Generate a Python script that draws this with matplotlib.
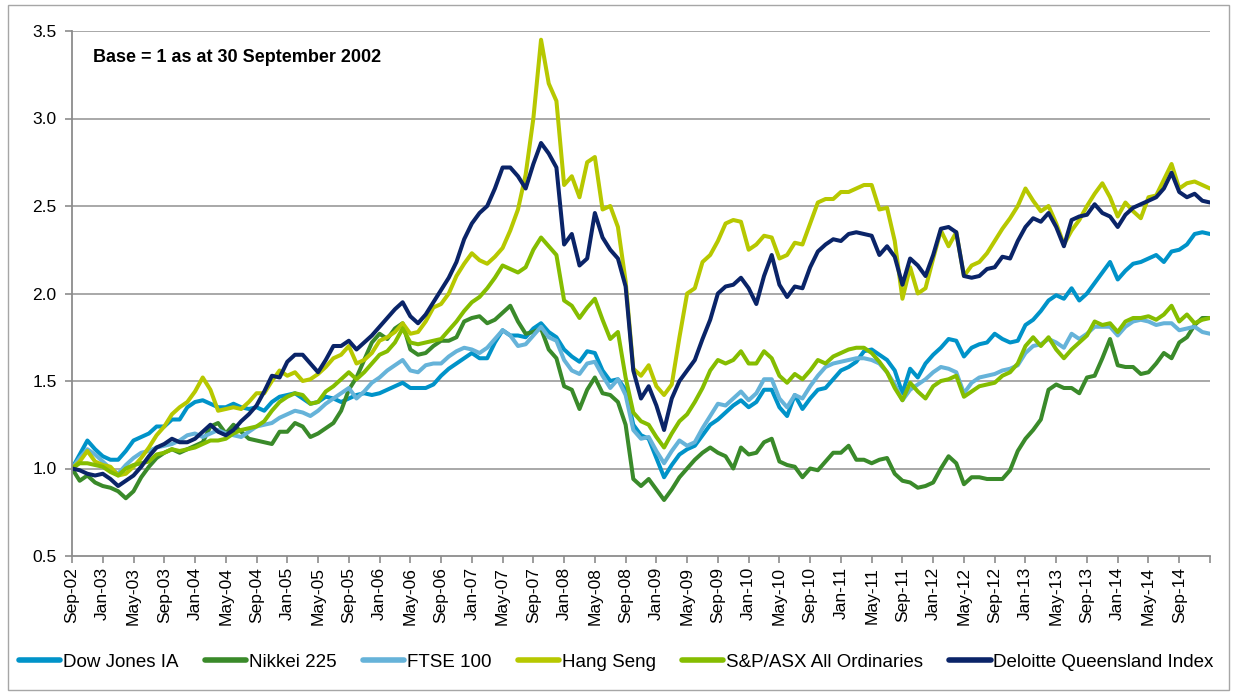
import matplotlib
matplotlib.use("Agg")
import matplotlib.pyplot as plt
import pandas as pd
from matplotlib.patches import Rectangle

plt.rcParams['font.family'] = ['Liberation Sans', 'DejaVu Sans']

# Monthly categories: Sep-2002 .. Jan-2015
months = pd.date_range("2002-09-01", periods=149, freq="MS")
month_labels = [d.strftime("%b-%y") for d in months]

dow_jones = [
    1.00, 1.08, 1.16, 1.11, 1.07, 1.05, 1.05, 1.10, 1.16, 1.18, 1.20, 1.24, 1.24, 1.28, 1.28, 1.35,
    1.38, 1.39, 1.37, 1.35, 1.35, 1.37, 1.35, 1.34, 1.35, 1.33, 1.38, 1.41, 1.42, 1.43, 1.40, 1.37,
    1.38, 1.41, 1.40, 1.38, 1.40, 1.42, 1.43, 1.42, 1.43, 1.45, 1.47, 1.49, 1.46, 1.46, 1.46, 1.48,
    1.53, 1.57, 1.60, 1.63, 1.66, 1.63, 1.63, 1.72, 1.79, 1.76, 1.76, 1.75, 1.80, 1.83, 1.78, 1.75,
    1.68, 1.64, 1.61, 1.67, 1.66, 1.56, 1.50, 1.51, 1.45, 1.25, 1.19, 1.17, 1.06, 0.95, 1.02, 1.08,
    1.11, 1.13, 1.19, 1.25, 1.28, 1.32, 1.36, 1.39, 1.35, 1.38, 1.45, 1.45, 1.35, 1.30, 1.42, 1.34,
    1.40, 1.45, 1.46, 1.51, 1.56, 1.58, 1.61, 1.67, 1.68, 1.65, 1.62, 1.56, 1.43, 1.57, 1.52, 1.60,
    1.65, 1.69, 1.74, 1.73, 1.64, 1.69, 1.71, 1.72, 1.77, 1.74, 1.72, 1.73, 1.82, 1.85, 1.90, 1.96,
    1.99, 1.97, 2.03, 1.96, 2.00, 2.06, 2.12, 2.18, 2.08, 2.13, 2.17, 2.18, 2.20, 2.22, 2.18, 2.24,
    2.25, 2.28, 2.34, 2.35, 2.34]

nikkei = [
    1.00, 0.93, 0.96, 0.92, 0.90, 0.89, 0.87, 0.83, 0.87, 0.95, 1.01, 1.06, 1.09, 1.11, 1.09, 1.11,
    1.13, 1.15, 1.24, 1.26, 1.20, 1.25, 1.21, 1.17, 1.16, 1.15, 1.14, 1.21, 1.21, 1.26, 1.24, 1.18,
    1.20, 1.23, 1.26, 1.33, 1.45, 1.52, 1.62, 1.72, 1.77, 1.74, 1.80, 1.83, 1.68, 1.65, 1.66, 1.70,
    1.73, 1.73, 1.75, 1.84, 1.86, 1.87, 1.83, 1.85, 1.89, 1.93, 1.84, 1.77, 1.78, 1.80, 1.68, 1.63,
    1.47, 1.45, 1.34, 1.45, 1.52, 1.43, 1.42, 1.38, 1.25, 0.94, 0.90, 0.94, 0.88, 0.82, 0.88, 0.95,
    1.00, 1.05, 1.09, 1.12, 1.09, 1.07, 1.00, 1.12, 1.08, 1.09, 1.15, 1.17, 1.04, 1.02, 1.01, 0.95,
    1.00, 0.99, 1.04, 1.09, 1.09, 1.13, 1.05, 1.05, 1.03, 1.05, 1.06, 0.97, 0.93, 0.92, 0.89, 0.90,
    0.92, 1.00, 1.07, 1.03, 0.91, 0.95, 0.95, 0.94, 0.94, 0.94, 0.99, 1.10, 1.17, 1.22, 1.28, 1.45,
    1.48, 1.46, 1.46, 1.43, 1.52, 1.53, 1.63, 1.74, 1.59, 1.58, 1.58, 1.54, 1.55, 1.60, 1.66, 1.63,
    1.72, 1.75, 1.82, 1.86, 1.86]

ftse = [
    1.00, 1.06, 1.11, 1.08, 1.04, 1.00, 0.97, 1.02, 1.06, 1.09, 1.10, 1.12, 1.13, 1.14, 1.16, 1.19,
    1.20, 1.18, 1.20, 1.22, 1.20, 1.19, 1.18, 1.21, 1.24, 1.25, 1.26, 1.29, 1.31, 1.33, 1.32, 1.30,
    1.33, 1.37, 1.40, 1.43, 1.46, 1.40, 1.44, 1.49, 1.52, 1.56, 1.59, 1.62, 1.56, 1.55, 1.59, 1.60,
    1.60, 1.64, 1.67, 1.69, 1.68, 1.66, 1.69, 1.74, 1.79, 1.76, 1.70, 1.71, 1.76, 1.81, 1.75, 1.73,
    1.62, 1.56, 1.54, 1.60, 1.61, 1.53, 1.46, 1.51, 1.42, 1.22, 1.17, 1.18, 1.10, 1.03, 1.10, 1.16,
    1.13, 1.15, 1.23, 1.30, 1.37, 1.36, 1.40, 1.44, 1.39, 1.43, 1.51, 1.51, 1.40, 1.35, 1.42, 1.40,
    1.47, 1.53, 1.58, 1.60, 1.61, 1.62, 1.63, 1.63, 1.62, 1.60, 1.55, 1.48, 1.39, 1.45, 1.48, 1.51,
    1.55, 1.58, 1.57, 1.55, 1.43, 1.49, 1.52, 1.53, 1.54, 1.56, 1.57, 1.59, 1.66, 1.70, 1.71, 1.74,
    1.72, 1.69, 1.77, 1.74, 1.77, 1.81, 1.81, 1.81, 1.76, 1.81, 1.84, 1.85, 1.84, 1.82, 1.83, 1.83,
    1.79, 1.80, 1.81, 1.78, 1.77]

hang_seng = [
    1.00, 1.04, 1.10, 1.04, 1.02, 1.01, 0.96, 0.97, 1.01, 1.06, 1.12, 1.19, 1.24, 1.31, 1.35, 1.38,
    1.44, 1.52, 1.45, 1.33, 1.34, 1.35, 1.34, 1.38, 1.43, 1.43, 1.50, 1.56, 1.53, 1.55, 1.50, 1.51,
    1.54, 1.58, 1.63, 1.65, 1.70, 1.60, 1.62, 1.66, 1.73, 1.75, 1.78, 1.83, 1.77, 1.78, 1.84, 1.92,
    1.94, 2.00, 2.10, 2.17, 2.23, 2.19, 2.17, 2.21, 2.26, 2.36, 2.48, 2.68, 3.00, 3.45, 3.20, 3.10,
    2.62, 2.67, 2.55, 2.75, 2.78, 2.48, 2.50, 2.38, 2.07, 1.57, 1.53, 1.59, 1.47, 1.42, 1.48, 1.75,
    2.00, 2.03, 2.18, 2.22, 2.30, 2.40, 2.42, 2.41, 2.25, 2.28, 2.33, 2.32, 2.20, 2.22, 2.29, 2.28,
    2.40, 2.52, 2.54, 2.54, 2.58, 2.58, 2.60, 2.62, 2.62, 2.48, 2.49, 2.30, 1.97, 2.15, 2.00, 2.03,
    2.20, 2.36, 2.27, 2.35, 2.10, 2.16, 2.18, 2.23, 2.30, 2.37, 2.43, 2.50, 2.60, 2.53, 2.47, 2.50,
    2.40, 2.28, 2.36, 2.42, 2.50, 2.57, 2.63, 2.55, 2.44, 2.52, 2.47, 2.43, 2.55, 2.56, 2.65, 2.74,
    2.60, 2.63, 2.64, 2.62, 2.60]

asx_all_ords = [
    1.00, 1.03, 1.03, 1.02, 1.01, 0.98, 0.96, 1.00, 1.02, 1.03, 1.04, 1.08, 1.09, 1.11, 1.10, 1.11,
    1.12, 1.14, 1.16, 1.16, 1.17, 1.20, 1.22, 1.23, 1.24, 1.27, 1.33, 1.38, 1.41, 1.43, 1.42, 1.37,
    1.38, 1.44, 1.47, 1.51, 1.55, 1.51, 1.55, 1.60, 1.65, 1.67, 1.72, 1.80, 1.72, 1.71, 1.72, 1.73,
    1.74, 1.79, 1.84, 1.90, 1.95, 1.98, 2.03, 2.09, 2.16, 2.14, 2.12, 2.15, 2.25, 2.32, 2.27, 2.22,
    1.96, 1.93, 1.86, 1.92, 1.97, 1.85, 1.74, 1.78, 1.52, 1.32, 1.27, 1.25, 1.18, 1.12, 1.20, 1.27,
    1.31, 1.38, 1.46, 1.56, 1.62, 1.60, 1.62, 1.67, 1.60, 1.60, 1.67, 1.63, 1.53, 1.49, 1.54, 1.51,
    1.56, 1.62, 1.60, 1.64, 1.66, 1.68, 1.69, 1.69, 1.66, 1.61, 1.55, 1.46, 1.39, 1.49, 1.44, 1.40,
    1.47, 1.50, 1.51, 1.53, 1.41, 1.44, 1.47, 1.48, 1.49, 1.53, 1.55, 1.60, 1.70, 1.75, 1.70, 1.75,
    1.68, 1.63, 1.68, 1.72, 1.76, 1.84, 1.82, 1.83, 1.78, 1.84, 1.86, 1.86, 1.87, 1.85, 1.88, 1.93,
    1.84, 1.88, 1.83, 1.85, 1.86]

deloitte_qld = [
    1.00, 0.99, 0.97, 0.96, 0.97, 0.94, 0.90, 0.93, 0.96, 1.01, 1.07, 1.12, 1.14, 1.17, 1.15, 1.15,
    1.17, 1.21, 1.25, 1.21, 1.19, 1.22, 1.27, 1.31, 1.36, 1.44, 1.53, 1.52, 1.61, 1.65, 1.65, 1.60,
    1.55, 1.62, 1.70, 1.70, 1.73, 1.68, 1.72, 1.76, 1.81, 1.86, 1.91, 1.95, 1.87, 1.83, 1.88, 1.95,
    2.02, 2.09, 2.18, 2.31, 2.40, 2.46, 2.50, 2.60, 2.72, 2.72, 2.67, 2.60, 2.74, 2.86, 2.80, 2.72,
    2.28, 2.34, 2.16, 2.20, 2.46, 2.32, 2.25, 2.20, 2.04, 1.56, 1.40, 1.47, 1.36, 1.22, 1.40, 1.50,
    1.56, 1.62, 1.74, 1.85, 2.00, 2.04, 2.05, 2.09, 2.03, 1.94, 2.10, 2.22, 2.05, 1.98, 2.04, 2.03,
    2.15, 2.24, 2.28, 2.31, 2.30, 2.34, 2.35, 2.34, 2.33, 2.22, 2.27, 2.21, 2.05, 2.20, 2.16, 2.10,
    2.22, 2.37, 2.38, 2.35, 2.10, 2.09, 2.10, 2.14, 2.15, 2.21, 2.20, 2.30, 2.38, 2.43, 2.41, 2.46,
    2.38, 2.27, 2.42, 2.44, 2.45, 2.51, 2.46, 2.44, 2.38, 2.45, 2.49, 2.51, 2.53, 2.55, 2.60, 2.69,
    2.58, 2.55, 2.57, 2.53, 2.52]

series_names = ["Dow Jones IA", "Nikkei 225", "FTSE 100", "Hang Seng",
                "S&P/ASX All Ordinaries", "Deloitte Queensland Index"]
series_values = [dow_jones, nikkei, ftse, hang_seng, asx_all_ords, deloitte_qld]
series_colors = ["#0093C9", "#3A8A2A", "#66B3D9", "#B7C800", "#85BD00", "#0A2468"]

W, H = 1233, 693
fig = plt.figure(figsize=(W / 100, H / 100), dpi=100)
fig.patches.append(Rectangle((8 / W, 3 / H), (1229 - 8) / W, (688 - 3) / H,
                             transform=fig.transFigure, fill=False,
                             edgecolor="#A6A6A6", linewidth=1.0))

ax = fig.add_axes([72 / W, 1 - 556 / H, (1210 - 72) / W, (556 - 31) / H])

x = list(range(len(months)))
for name, vals, col in zip(series_names, series_values, series_colors):
    ax.plot(x, vals, color=col, lw=2.9, label=name,
            solid_joinstyle="round", solid_capstyle="round")

ax.set_xlim(0, len(months) - 1)
ax.set_ylim(0.5, 3.5)
yt = [0.5, 1.0, 1.5, 2.0, 2.5, 3.0, 3.5]
ax.set_yticks(yt)
ax.set_yticklabels([f"{v:.1f}" for v in yt])
for v in yt[1:]:
    ax.axhline(v, color="#9A9A9A", lw=1.2, zorder=0)

xt = list(range(0, len(months), 4))
ax.set_xticks(xt)
ax.set_xticklabels([month_labels[i] if i < len(months) - 1 else "" for i in xt],
                   rotation=90)

for s in ["top", "right"]:
    ax.spines[s].set_visible(False)
for s in ["left", "bottom"]:
    ax.spines[s].set_color("#8C8C8C")
    ax.spines[s].set_linewidth(1.3)
ax.tick_params(axis="both", colors="#8C8C8C", length=5, width=1.2,
               labelcolor="black", labelsize=12.5)
ax.tick_params(axis="x", pad=3)
ax.tick_params(axis="y", pad=6)

ax.text(93 / W, 1 - 58 / H, "Base = 1 as at 30 September 2002", transform=fig.transFigure,
        fontsize=13, fontweight="bold", va="center", ha="left")

leg = fig.legend(loc="center", bbox_to_anchor=(0.5, 1 - 662 / H), ncol=6, frameon=False,
                 fontsize=13.5, handlelength=2.2, handletextpad=0.15, columnspacing=1.4,
                 borderaxespad=0)
for h in leg.get_lines():
    h.set_linewidth(4)

fig.savefig("out.png", dpi=100)
